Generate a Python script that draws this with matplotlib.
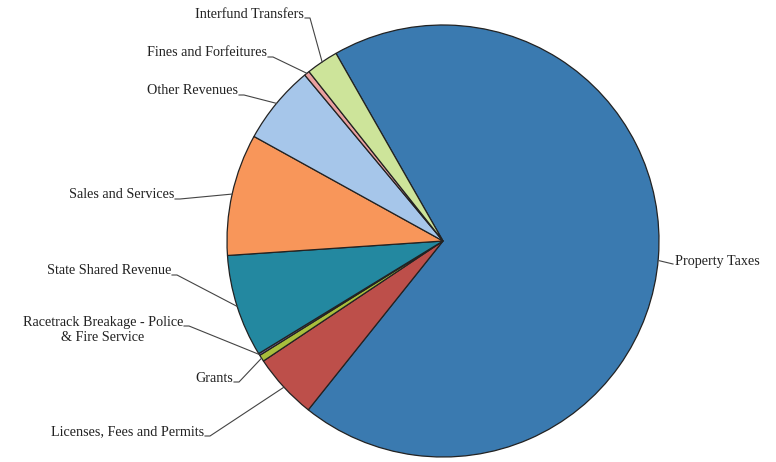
import numpy as np
import matplotlib.pyplot as plt

# revenue shares (percent), clockwise from the Property Taxes start
categories = [
    "Property Taxes",
    "Licenses, Fees and Permits",
    "Grants",
    "Racetrack Breakage - Police\n& Fire Service",
    "State Shared Revenue",
    "Sales and Services",
    "Other Revenues",
    "Fines and Forfeitures",
    "Interfund Transfers",
]
shares = [68.9, 4.9, 0.5, 0.15, 7.65, 9.1, 5.9, 0.4, 2.4]
colors = ["#3a7ab0", "#bd4f4a", "#a8be3c", "#7a68a8", "#2388a0",
          "#f8965a", "#a6c6ea", "#eaa0a0", "#cde49a"]

# label text anchor (right edge / left edge for Property Taxes), pixel coords
label_pos = [
    (675, 262), (204, 432), (233, 378), (183, 330), (171, 271),
    (174, 195), (238, 91), (267, 53), (304, 14),
]

CX, CY, R = 443, 241, 216

fig = plt.figure(figsize=(7.76, 4.62), dpi=100)
ax = fig.add_axes([0, 0, 1, 1])

# y axis is inverted, so counterclock=True draws clockwise on screen
wedges, _ = ax.pie(shares, colors=colors, startangle=-119.7, counterclock=True,
                   center=(CX, CY), radius=R, frame=True,
                   wedgeprops=dict(edgecolor="#222222", linewidth=0.9))
ax.set_xlim(0, 776)
ax.set_ylim(462, 0)
ax.axis("off")

for w, name, (tx, ty) in zip(wedges, categories, label_pos):
    mid = np.deg2rad((w.theta1 + w.theta2) / 2)
    px, py = CX + R * np.cos(mid), CY + R * np.sin(mid)
    if name == "Property Taxes":
        ax.text(tx, ty, name, ha="left", va="center", fontsize=10.2,
                family="Liberation Serif", color="#222222")
        ax.plot([px + 1, tx - 2], [py + 3, ty + 2], color="#444444", lw=0.8)
    else:
        ax.text(tx, ty, name, ha="right", va="center", fontsize=10.2,
                family="Liberation Serif", color="#222222",
                multialignment="center", linespacing=1.25)
        oy = -4 if "\n" in name else 4
        ax.plot([tx + 1, tx + 6, px], [ty + oy, ty + oy, py],
                color="#444444", lw=0.8)

fig.savefig("out.png", dpi=100, facecolor="white")
